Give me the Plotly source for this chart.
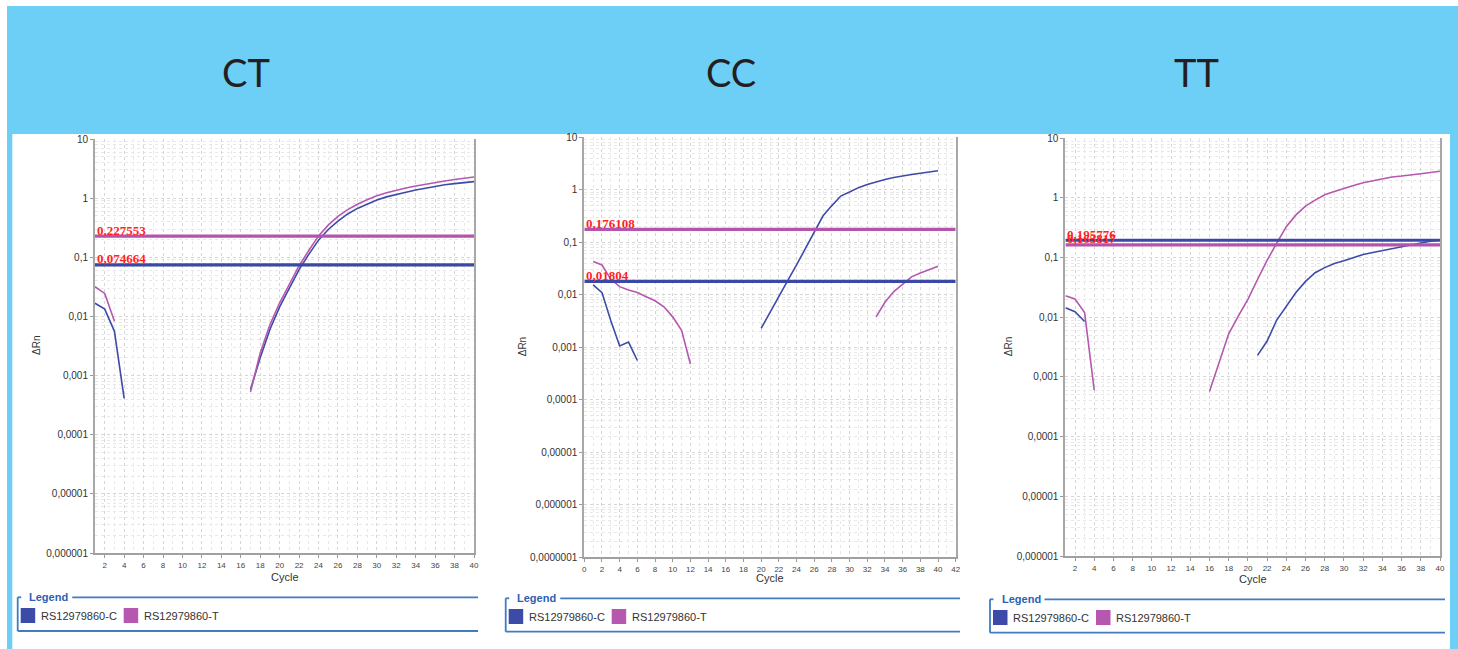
import math
import plotly.graph_objects as go

W, H = 1458, 649

# ---------------- data ----------------
cycles = list(range(1, 41))
panel_titles = ["CT", "CC", "TT"]
series_names = ["RS12979860-C", "RS12979860-T"]

# CT panel (cycles 1..40, None = not plotted)
ct_c = [0.0167, 0.0133, 0.0056, 0.00041] + [None] * 12 + [
    0.00058, 0.0020, 0.0060, 0.0145, 0.030, 0.062, 0.112, 0.195, 0.295, 0.41,
    0.54, 0.67, 0.79, 0.93, 1.05, 1.16, 1.26, 1.37, 1.48, 1.60, 1.68, 1.76, 1.83, 1.90]
ct_t = [0.0318, 0.0245, 0.0083] + [None] * 13 + [
    0.00053, 0.0024, 0.0072, 0.0170, 0.035, 0.072, 0.130, 0.23, 0.35, 0.49,
    0.64, 0.79, 0.94, 1.10, 1.23, 1.36, 1.48, 1.60, 1.72, 1.84, 1.95, 2.06, 2.17, 2.28]

# CC panel
cc_c = [0.0154, 0.011, 0.0032, 0.00106, 0.00126, 0.00056] + [None] * 13 + [
    0.0023, 0.0047, 0.0093, 0.0186, 0.037, 0.076, 0.158, 0.32, 0.50, 0.76,
    0.91, 1.10, 1.26, 1.43, 1.57, 1.72, 1.86, 1.95, 2.06, 2.19, 2.31]
cc_t = [0.043, 0.037, 0.0197, 0.0143, 0.0123, 0.0111, 0.0092, 0.0077, 0.0059,
        0.0038, 0.0021, 0.00048] + [None] * 20 + [
    0.0038, 0.0072, 0.0115, 0.016, 0.022, 0.026, 0.030, 0.035]

# TT panel
tt_c = [0.0145, 0.0124, 0.0085] + [None] * 17 + [
    0.0023, 0.0040, 0.0090, 0.0155, 0.026, 0.040, 0.056, 0.068, 0.080, 0.089,
    0.101, 0.113, 0.122, 0.132, 0.142, 0.152, 0.163, 0.176, 0.188, 0.198]
tt_t = [0.023, 0.0203, 0.012, 0.00060] + [None] * 11 + [
    0.00057, 0.0018, 0.0053, 0.0105, 0.020, 0.043, 0.090, 0.175, 0.33, 0.52,
    0.73, 0.92, 1.13, 1.28, 1.45, 1.62, 1.80, 1.95, 2.10, 2.25, 2.33, 2.41,
    2.55, 2.68, 2.80]

ct_thresholds = [0.074664, 0.227553]
cc_thresholds = [0.01804, 0.176108]
tt_thresholds = [0.195776, 0.163817]

x_ranges = [[1, 40], [0, 42], [1, 40]]
x_tickvals = [list(range(2, 41, 2)), list(range(0, 43, 2)), list(range(2, 41, 2))]
y_exp_ranges = [[-6, 1], [-7, 1], [-6, 1]]

panel_series = [(ct_c, ct_t), (cc_c, cc_t), (tt_c, tt_t)]
panel_thresholds = [ct_thresholds, cc_thresholds, tt_thresholds]

# ---------------- style / layout ----------------
C_BLUE = "#3c4aa8"
C_MAG = "#b657b0"
TH_BLUE = "#3a48a6"
TH_MAG = "#b454ad"
BG_BLUE = "#6dcff6"
LEG_BLUE = "#3f7cc4"
GRID = "#d6d6d6"
GRID_MINOR = "#e8e8e8"

# plot boxes in pixels: (left, right, top, bottom)
boxes = [(95, 474, 139, 553), (584.3, 955.7, 137.3, 557.3), (1065.4, 1440, 138.3, 556)]
title_x = [246, 731, 1196]
drn_x = [36, 522, 1008]
cycle_label_y = [576.7, 578, 578.7]
legend_boxes = [(17.7, 597.3, 631, 478), (505.7, 598.3, 631.7, 960), (990, 599.3, 632.7, 1445)]


def px(x):
    return x / W


def py(y):
    return 1 - y / H


def log_label(k):
    if k >= 0:
        return str(10 ** k)
    return "0," + "0" * (-k - 1) + "1"


fig = go.Figure()
shapes = []
annotations = []

# background
shapes.append(dict(type="rect", xref="paper", yref="paper", x0=px(7), x1=1, y0=0, y1=py(6),
                   fillcolor=BG_BLUE, line_width=0, layer="below"))
shapes.append(dict(type="rect", xref="paper", yref="paper", x0=px(12.3), x1=px(1450), y0=0, y1=py(134),
                   fillcolor="white", line_width=0, layer="below"))

layout_axes = {}
for i in range(3):
    n = "" if i == 0 else str(i + 1)
    xa, ya = "x" + n, "y" + n
    left, right, top, bottom = boxes[i]
    c_vals, t_vals = panel_series[i]
    th_c, th_t = panel_thresholds[i]
    xr = x_ranges[i]

    # data curves
    fig.add_trace(go.Scatter(x=cycles, y=c_vals, mode="lines", line=dict(color=C_BLUE, width=1.6),
                             connectgaps=False, xaxis=xa, yaxis=ya, showlegend=False,
                             name=series_names[0]))
    fig.add_trace(go.Scatter(x=cycles, y=t_vals, mode="lines", line=dict(color=C_MAG, width=1.6),
                             connectgaps=False, xaxis=xa, yaxis=ya, showlegend=False,
                             name=series_names[1]))
    # threshold lines
    fig.add_trace(go.Scatter(x=xr, y=[th_t, th_t], mode="lines", line=dict(color=TH_MAG, width=3.2),
                             xaxis=xa, yaxis=ya, showlegend=False, hoverinfo="skip"))
    fig.add_trace(go.Scatter(x=xr, y=[th_c, th_c], mode="lines", line=dict(color=TH_BLUE, width=3.2),
                             xaxis=xa, yaxis=ya, showlegend=False, hoverinfo="skip"))
    for th in (th_c, th_t):
        annotations.append(dict(xref=xa + " domain", yref=ya, x=0, y=math.log10(th), xanchor="left",
                                yanchor="middle", yshift=6, showarrow=False,
                                text=str(th).replace(".", ","),
                                font=dict(family="Liberation Serif", size=13, color="#ff2424",
                                          weight="bold")))

    lo, hi = y_exp_ranges[i]
    layout_axes["xaxis" + n] = dict(
        domain=[px(left), px(right)], anchor=ya, range=xr, tickmode="array",
        tickvals=x_tickvals[i], ticktext=[str(v) for v in x_tickvals[i]],
        tickfont=dict(family="Liberation Sans", size=8, color="#444"),
        ticks="outside", ticklen=3, tickcolor="#999", automargin=False,
        showline=True, linecolor="#a0a0a0", linewidth=2,
        showgrid=True, gridcolor=GRID, griddash="dot", gridwidth=1,
        minor=dict(dtick=1, showgrid=True, gridcolor=GRID_MINOR, griddash="dot", ticks=""),
        zeroline=False, fixedrange=True)
    layout_axes["yaxis" + n] = dict(
        domain=[py(bottom), py(top)], anchor=xa, type="log", range=[lo, hi], tickmode="array",
        tickvals=[10.0 ** k for k in range(lo, hi + 1)],
        ticktext=[log_label(k) for k in range(lo, hi + 1)],
        tickfont=dict(family="Liberation Sans", size=10, color="#333"),
        ticks="outside", ticklen=3, tickcolor="#999", automargin=False,
        showline=True, linecolor="#a8a8a8", linewidth=2, mirror=True,
        showgrid=True, gridcolor=GRID, griddash="dot", gridwidth=1,
        minor=dict(dtick="D1", showgrid=True, gridcolor=GRID_MINOR, griddash="dot", ticks=""),
        zeroline=False, fixedrange=True)

    # titles
    annotations.append(dict(xref="paper", yref="paper", x=px(title_x[i]), y=py(72), xanchor="center",
                            yanchor="middle", showarrow=False, text=panel_titles[i],
                            font=dict(family="Lato", size=38, color="#231f20")))
    annotations.append(dict(xref="paper", yref="paper", x=px(drn_x[i]), y=py((top + bottom) / 2),
                            xanchor="center", yanchor="middle", showarrow=False, text="ΔRn",
                            textangle=-90, font=dict(family="Liberation Sans", size=10, color="#333")))
    annotations.append(dict(xref="paper", yref="paper", x=px((left + right) / 2), y=py(cycle_label_y[i]),
                            xanchor="center", yanchor="middle", showarrow=False, text="Cycle",
                            font=dict(family="Liberation Sans", size=11, color="#333")))

    # legend box
    lx, ltop, lbot, lr = legend_boxes[i]
    lw = dict(color=LEG_BLUE, width=1.8)
    shapes.append(dict(type="line", xref="paper", yref="paper", x0=px(lx), x1=px(lx),
                       y0=py(ltop), y1=py(lbot), line=lw))
    shapes.append(dict(type="line", xref="paper", yref="paper", x0=px(lx), x1=px(lx + 3.5),
                       y0=py(ltop), y1=py(ltop), line=lw))
    shapes.append(dict(type="line", xref="paper", yref="paper", x0=px(lx + 54.5), x1=px(lr),
                       y0=py(ltop), y1=py(ltop), line=lw))
    shapes.append(dict(type="line", xref="paper", yref="paper", x0=px(lx), x1=px(lr),
                       y0=py(lbot), y1=py(lbot), line=lw))
    annotations.append(dict(xref="paper", yref="paper", x=px(lx + 9.5), y=py(ltop), xanchor="left",
                            yanchor="middle", showarrow=False, text="<b>Legend</b>",
                            font=dict(family="Liberation Sans", size=11, color="#2d5fb2")))
    for j, (col, sx, tx) in enumerate([(C_BLUE, 3, 21), (C_MAG, 106, 124)]):
        shapes.append(dict(type="rect", xref="paper", yref="paper", x0=px(lx + sx), x1=px(lx + sx + 14.5),
                           y0=py(ltop + 25.7), y1=py(ltop + 10.7), fillcolor=col,
                           line=dict(color=col, width=0)))
        annotations.append(dict(xref="paper", yref="paper", x=px(lx + tx), y=py(ltop + 18.5),
                                xanchor="left", yanchor="middle", showarrow=False, text=series_names[j],
                                font=dict(family="Liberation Sans", size=11, color="#333")))

fig.update_layout(
    width=W, height=H, margin=dict(l=0, r=0, t=0, b=0, pad=0, autoexpand=False),
    paper_bgcolor="white", plot_bgcolor="white",
    showlegend=False, shapes=shapes, annotations=annotations, **layout_axes)

fig.write_html(
    "out.html",
    config={"displayModeBar": False, "responsive": False},
    post_script="document.body.style.margin='0px';document.body.style.padding='0px';"
                "document.body.style.overflow='hidden';"
                "document.documentElement.style.overflow='hidden';",
)
